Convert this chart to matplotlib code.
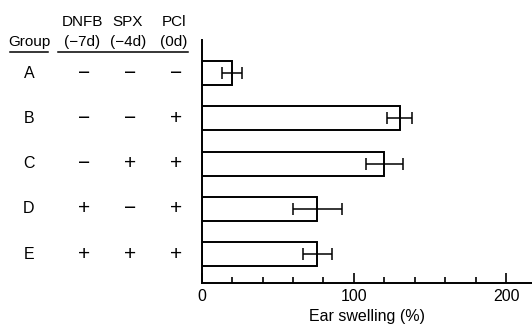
import matplotlib
matplotlib.use('Agg')
import matplotlib.pyplot as plt
from matplotlib.transforms import blended_transform_factory
from matplotlib.lines import Line2D

plt.rcParams['font.family'] = ['Liberation Sans', 'DejaVu Sans']

# 数据
groups = ['A', 'B', 'C', 'D', 'E']
swelling = [20, 130, 120, 76, 76]
swelling_err = [6.5, 8, 12, 16, 9.5]
dnfb = ['−', '−', '−', '+', '+']
spx = ['−', '−', '+', '−', '+']
pcl = ['−', '+', '+', '+', '+']
col_headers = [('DNFB', '(−7d)'), ('SPX', '(−4d)'), ('PCl', '(0d)')]

W, H = 532, 330
fig = plt.figure(figsize=(W / 100, H / 100), dpi=100)
ax = fig.add_axes([201.7 / W, (H - 283) / H, 1 - 201.7 / W, (283 - 40) / H])

pos = list(range(len(groups)))
ax.barh(pos, swelling, height=0.53, color='white', edgecolor='black', linewidth=1.4)
ax.errorbar(swelling, pos, xerr=swelling_err, fmt='none', ecolor='black',
            elinewidth=1.1, capsize=4.5, capthick=1.1)

ax.set_ylim(4.64, -0.73)
ax.set_xlim(0, 217)
ax.set_yticks([])
ax.spines['top'].set_visible(False)
ax.spines['right'].set_visible(False)
for s in ('left', 'bottom'):
    ax.spines[s].set_linewidth(1.4)

ax.set_xticks([0, 100, 200])
ax.set_xticks(range(20, 217, 20), minor=True)
ax.tick_params(axis='x', which='major', direction='in', length=7.5, width=1.2,
               labelsize=11.5, pad=4)
ax.tick_params(axis='x', which='minor', direction='in', length=4.5, width=1.2)
ax.set_xlabel('Ear swelling (%)', fontsize=11.5, labelpad=4)

# 左侧表格
tr = blended_transform_factory(fig.transFigure, ax.transData)
col_x = [84 / W, 130 / W, 176 / W]
group_x = 29 / W
for i, g in enumerate(groups):
    ax.text(group_x, i, g, transform=tr, ha='center', va='center', fontsize=11.5)
    for cx, col in zip(col_x, [dnfb, spx, pcl]):
        ax.text(cx, i, col[i], transform=tr, ha='center', va='center', fontsize=15)

fig.text(group_x, 1 - 42 / H, 'Group', ha='center', va='center', fontsize=11)
for cx, (h1, h2) in zip(col_x, col_headers):
    fig.text(cx - 2 / W, 1 - 22 / H, h1, ha='center', va='center', fontsize=11)
    fig.text(cx - 2 / W, 1 - 42 / H, h2, ha='center', va='center', fontsize=11)

fig.add_artist(Line2D([10 / W, 48 / W], [1 - 52 / H] * 2, color='black', lw=1.1))
fig.add_artist(Line2D([58 / W, 188 / W], [1 - 52 / H] * 2, color='black', lw=1.1))

fig.savefig('out.png', dpi=100)
